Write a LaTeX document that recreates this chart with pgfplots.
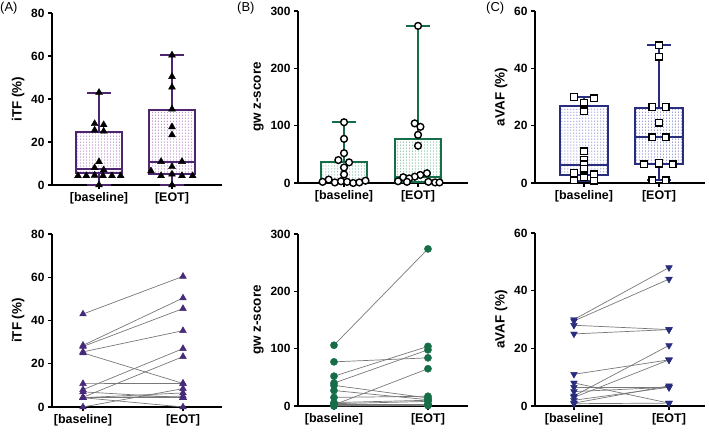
\documentclass[border=0pt]{standalone}
\usepackage{fontspec}
\setmainfont{Liberation Sans}
\usepackage{pgfplots}
\pgfplotsset{compat=1.18}
\usepackage{pgfplotstable}
\usetikzlibrary{patterns}

\definecolor{purA}{RGB}{78,38,112}
\definecolor{purM}{RGB}{72,42,122}
\definecolor{purDot}{RGB}{140,60,165}
\definecolor{grnB}{RGB}{22,110,72}
\definecolor{grnDot}{RGB}{40,150,95}
\definecolor{navC}{RGB}{40,45,125}
\definecolor{navDot}{RGB}{60,70,185}
\definecolor{pairgray}{RGB}{120,120,120}

% paired data: baseline -> EOT
\pgfplotstableread{
base eot
43 60.4
28.5 50.4
28 45.5
25.5 35.3
25 10.9
10.8 10.9
8 27
7 4.3
4.5 23.3
4.3 6.5
4.3 5
4.3 4.3
4.3 4.3
4.3 0
0 8.5
}\pairsA
\pgfplotstableread{
base eot
106 274
77 84
52 104
40 98
2 65
36 14
27 11
15 17
6 10
4 8
3 3
2 2
1 2
1 1
0 1
}\pairsB
\pgfplotstableread{
base eot
30 48
29.5 44
28 26.5
25 26.5
11 16
8 1
6.5 6.5
5 6.5
3.5 21
3 16
2 6.5
1 7
0.8 1
}\pairsC

% jittered points for the box plots (dx y)
\pgfplotstableread{
dx y
0 43
-0.06 28.5
0.064 28
-0.06 25.5
0.064 25
0 10.8
-0.06 8
0.064 7
-0.288 4.3
-0.174 4.3
-0.06 4.5
0.055 4.3
0.178 4.3
0.297 4.3
0 0
}\ptsAb
\pgfplotstableread{
dx y
0 60.4
0 50.4
0 45.5
0 35.3
0 27
0 23.3
-0.15 10.9
0.137 10.9
0 8.5
-0.288 6.5
0 5
-0.15 4.3
0.137 4.3
0.283 4.3
0 0
}\ptsAe
\pgfplotstableread{
dx y
0 106
0 77
0 52
-0.077 40
0.068 36
0 27
0 15
-0.29 2
-0.207 6
-0.124 1
-0.041 3
0.041 2
0.124 0
0.207 1
0.29 4
}\ptsBb
\pgfplotstableread{
dx y
0 274
-0.045 104
0.032 98
0 84
0 65
0.12 17
0.03 14
-0.045 11
-0.2 10
-0.12 8
-0.27 3
-0.15 2
0.14 2
0.23 1
0.29 1
}\ptsBe
\pgfplotstableread{
dx y
-0.133 30
0.133 29.5
0 28
0 25
0 11
0 8
0 6.5
0 5
-0.133 3.5
0.133 3
0 2
-0.133 1
0.133 0.8
}\ptsCb
\pgfplotstableread{
dx y
0 48
0 44
-0.09 26.5
0.09 26.5
0 21
-0.09 16
0.09 16
-0.2 6.5
0 6.5
0.18 6.5
0 7
-0.09 1
0.09 1
}\ptsCe

\pgfplotsset{
 panel/.style={
  scale only axis, width=170bp, height=172bp, anchor=south west,
  axis x line=bottom, axis y line=left,
  axis line style={-, line width=1.3bp, black},
  tick style={line width=1.2bp, black},
  tick align=outside, major tick length=4bp,
  xtick={1,2}, xticklabels={{[baseline]},{[EOT]}},
  ymin=0,
  /pgf/number format/assume math mode=true,
  yticklabel style={font=\bfseries\fontsize{12}{14}\selectfont},
  xticklabel style={font=\bfseries\fontsize{12.5}{14}\selectfont},
  ylabel style={font=\bfseries\fontsize{13.5}{15}\selectfont},
  clip=false,
 },
 pairline/.style={no marks, draw=pairgray, line width=0.7bp,
   quiver={u=1, v=\thisrow{eot}-\thisrow{base}}},
 boxA/.style={draw=purA, line width=2bp, pattern=dots, pattern color=purDot},
 boxB/.style={draw=grnB, line width=2bp, pattern=dots, pattern color=grnDot},
 boxC/.style={draw=navC, line width=2bp, pattern=dots, pattern color=navDot},
 whisk/.style={line width=2bp, no marks, unbounded coords=jump},
}

\begin{document}
\begin{tikzpicture}
\path[use as bounding box] (0,0) rectangle (709bp,432bp);

\node[anchor=north west, inner sep=0pt, font=\fontsize{13}{15}\selectfont] at (0bp,430bp) {(A)};
\node[anchor=north west, inner sep=0pt, font=\fontsize{13}{15}\selectfont] at (237bp,430bp) {(B)};
\node[anchor=north west, inner sep=0pt, font=\fontsize{13}{15}\selectfont] at (486bp,430bp) {(C)};

% ---------- top A ----------
\begin{axis}[panel, at={(52bp,247bp)}, xmin=0.356, xmax=2.685, ymax=80, ytick={0,20,40,60,80}, ylabel={iTF (\%)}]
\addplot[boxA] coordinates {(0.685,5.4) (1.315,5.4) (1.315,24.5) (0.685,24.5)} -- cycle;
\addplot[whisk, draw=purA] coordinates {(1,24.5) (1,43) (1,nan) (0.835,43) (1.165,43) (1,nan) (1,5.4) (1,0) (1,nan) (0.835,0) (1.165,0) (1,nan) (0.685,7.3) (1.315,7.3)};
\addplot[boxA] coordinates {(1.685,5) (2.315,5) (2.315,35) (1.685,35)} -- cycle;
\addplot[whisk, draw=purA] coordinates {(2,35) (2,60.5) (2,nan) (1.835,60.5) (2.165,60.5) (2,nan) (2,5) (2,0) (2,nan) (1.835,0) (2.165,0) (2,nan) (1.685,10.6) (2.315,10.6)};
\addplot[only marks, mark=triangle*, mark size=4bp, mark options={fill=black, draw=black}] table[x expr=1+\thisrow{dx}, y=y] {\ptsAb};
\addplot[only marks, mark=triangle*, mark size=4bp, mark options={fill=black, draw=black}] table[x expr=2+\thisrow{dx}, y=y] {\ptsAe};
\end{axis}

% ---------- top B ----------
\begin{axis}[panel, at={(298bp,249bp)}, xmin=0.378, xmax=2.675, ymax=300, ytick={0,100,200,300}, ylabel={gw z-score}]
\addplot[boxB] coordinates {(0.685,1.5) (1.315,1.5) (1.315,36.5) (0.685,36.5)} -- cycle;
\addplot[whisk, draw=grnB] coordinates {(1,36.5) (1,106) (1,nan) (0.835,106) (1.165,106) (1,nan) (1,1.5) (1,0) (1,nan) (0.685,4) (1.315,4)};
\addplot[boxB] coordinates {(1.685,2) (2.315,2) (2.315,77) (1.685,77)} -- cycle;
\addplot[whisk, draw=grnB] coordinates {(2,77) (2,274) (2,nan) (1.835,274) (2.165,274) (2,nan) (2,2) (2,1) (2,nan) (1.685,11) (2.315,11)};
\addplot[only marks, mark=*, mark size=3.4bp, mark options={fill=white, draw=black, line width=1.4bp}] table[x expr=1+\thisrow{dx}, y=y] {\ptsBb};
\addplot[only marks, mark=*, mark size=3.4bp, mark options={fill=white, draw=black, line width=1.4bp}] table[x expr=2+\thisrow{dx}, y=y] {\ptsBe};
\end{axis}

% ---------- top C ----------
\begin{axis}[panel, at={(535bp,249bp)}, xmin=0.347, xmax=2.613, ymax=60, ytick={0,20,40,60}, ylabel={aVAF (\%)}]
\addplot[boxC] coordinates {(0.685,2.8) (1.315,2.8) (1.315,27) (0.685,27)} -- cycle;
\addplot[whisk, draw=navC] coordinates {(1,27) (1,30) (1,nan) (0.835,30) (1.165,30) (1,nan) (1,2.8) (1,0.8) (1,nan) (0.835,0.8) (1.165,0.8) (1,nan) (0.685,6.4) (1.315,6.4)};
\addplot[boxC] coordinates {(1.685,6.5) (2.315,6.5) (2.315,26.2) (1.685,26.2)} -- cycle;
\addplot[whisk, draw=navC] coordinates {(2,26.2) (2,48) (2,nan) (1.835,48) (2.165,48) (2,nan) (2,6.5) (2,1) (2,nan) (1.835,1) (2.165,1) (2,nan) (1.685,16) (2.315,16)};
\addplot[only marks, mark=square*, mark size=3.3bp, mark options={fill=white, draw=black, line width=1.4bp}] table[x expr=1+\thisrow{dx}, y=y] {\ptsCb};
\addplot[only marks, mark=square*, mark size=3.3bp, mark options={fill=white, draw=black, line width=1.4bp}] table[x expr=2+\thisrow{dx}, y=y] {\ptsCe};
\end{axis}

% ---------- bottom A ----------
\begin{axis}[panel, at={(52bp,25bp)}, height=173bp, xmin=0.69, xmax=2.39, ymax=80, ytick={0,20,40,60,80}, ylabel={iTF (\%)}]
\addplot[pairline] table[x expr=1, y=base] {\pairsA};
\addplot[only marks, mark=triangle*, mark size=3.9bp, mark options={fill=purM, draw=purM}] table[x expr=1, y=base] {\pairsA};
\addplot[only marks, mark=triangle*, mark size=3.9bp, mark options={fill=purM, draw=purM}] table[x expr=2, y=eot] {\pairsA};
\end{axis}

% ---------- bottom B ----------
\begin{axis}[panel, at={(298bp,26bp)}, xmin=0.617, xmax=2.426, ymax=300, ytick={0,100,200,300}, ylabel={gw z-score}]
\addplot[pairline] table[x expr=1, y=base] {\pairsB};
\addplot[only marks, mark=*, mark size=3.6bp, mark options={fill=grnB, draw=grnB}] table[x expr=1, y=base] {\pairsB};
\addplot[only marks, mark=*, mark size=3.6bp, mark options={fill=grnB, draw=grnB}] table[x expr=2, y=eot] {\pairsB};
\end{axis}

% ---------- bottom C ----------
\begin{axis}[panel, at={(535bp,26bp)}, height=173bp, xmin=0.59, xmax=2.379, ymax=60, ytick={0,20,40,60}, ylabel={aVAF (\%)}]
\addplot[pairline] table[x expr=1, y=base] {\pairsC};
\addplot[only marks, mark=triangle*, mark size=3.9bp, mark options={fill=navC, draw=navC, rotate=180}] table[x expr=1, y=base] {\pairsC};
\addplot[only marks, mark=triangle*, mark size=3.9bp, mark options={fill=navC, draw=navC, rotate=180}] table[x expr=2, y=eot] {\pairsC};
\end{axis}
\end{tikzpicture}
\end{document}
